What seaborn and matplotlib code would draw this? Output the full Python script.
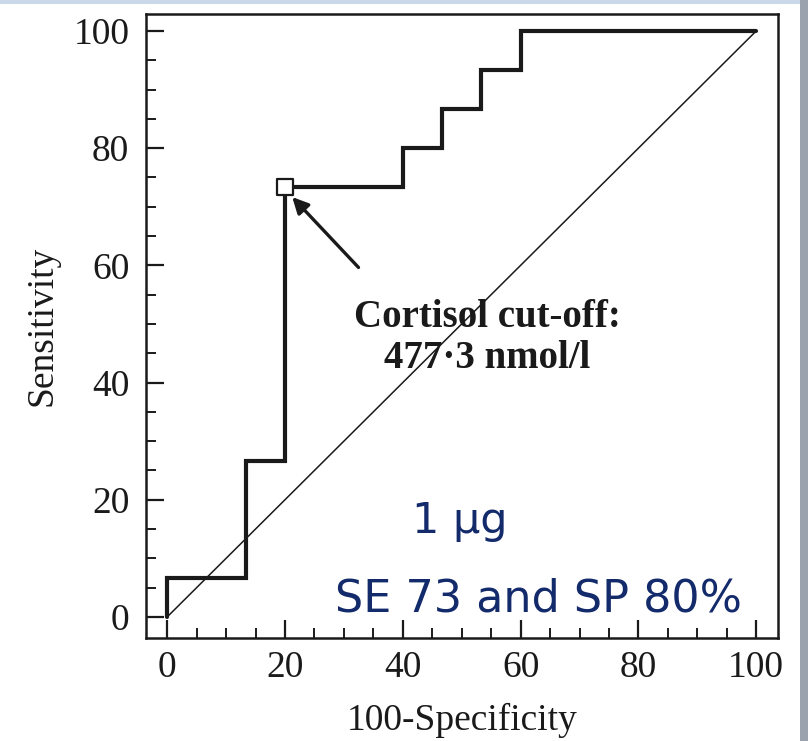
import matplotlib
matplotlib.use("Agg")
import matplotlib.pyplot as plt
import seaborn as sns
import pandas as pd
from matplotlib.patches import Rectangle
from matplotlib.ticker import MultipleLocator

# ROC curve vertices (100-Specificity, Sensitivity)
fpr = [0, 0, 13.33, 13.33, 20, 20, 40, 40, 46.67, 46.67, 53.33, 53.33, 60, 60, 100]
tpr = [0, 6.67, 6.67, 26.67, 26.67, 73.33, 73.33, 80, 80, 86.67, 86.67, 93.33, 93.33, 100, 100]
diag_x = [0, 100]
diag_y = [0, 100]
cut_x = [20]
cut_y = [73.33]
ticks = [0, 20, 40, 60, 80, 100]

sns.set_theme(style="white")
plt.rcParams['font.family'] = ['Liberation Serif', 'DejaVu Serif']

fig = plt.figure(figsize=(8.08, 7.41), dpi=100)
# decorative frame strips
fig.patches.append(Rectangle((0, 1 - 4/741), 1, 4/741, transform=fig.transFigure,
                             facecolor='#c9d9e9', edgecolor='none', zorder=0))
fig.patches.append(Rectangle((800/808, 0), 8/808, 1, transform=fig.transFigure,
                             facecolor='#9aa3ad', edgecolor='none', zorder=0))

ax = fig.add_axes([146/808, 1 - 638/741, (778 - 146)/808, (638 - 14)/741])

df = pd.DataFrame({'x': fpr, 'y': tpr})
sns.lineplot(data=df, x='x', y='y', sort=False, estimator=None, ax=ax,
             color='#1a1a1a', linewidth=3.0, solid_joinstyle='miter')
sns.lineplot(x=diag_x, y=diag_y, ax=ax, color='#1a1a1a', linewidth=1.1)
sns.scatterplot(x=cut_x, y=cut_y, ax=ax, marker='s', s=125, facecolor='white',
                edgecolor='#1a1a1a', linewidth=1.6, zorder=5)

ax.annotate('', xy=(20.9, 72.0), xytext=(32.8, 59.3),
            arrowprops=dict(arrowstyle='-|>', color='#1a1a1a', lw=2.4,
                            mutation_scale=24))
ax.text(54.3, 47.6, 'Cortisol cut-off:\n477·3 nmol/l', ha='center', va='center',
        fontsize=28, fontweight='bold', color='#1a1a1a', linespacing=1.15)

ax.text(49.6, 16.4, '1 \u03bcg', ha='center', va='center', fontsize=31,
        color='#132a6b', family=['DejaVu Sans'])
ax.text(63.1, 3.1, 'SE 73 and SP 80%', ha='center', va='center', fontsize=32,
        color='#132a6b', family=['DejaVu Sans'])

ax.set_xlim(-3.6, 103.7)
ax.set_ylim(-3.6, 102.9)
ax.set_xticks(ticks)
ax.set_yticks(ticks)
ax.xaxis.set_minor_locator(MultipleLocator(5))
ax.yaxis.set_minor_locator(MultipleLocator(5))
ax.tick_params(which='major', direction='in', length=13, width=1.6, color='#1a1a1a',
               labelsize=27, labelcolor='#1a1a1a', pad=9,
               bottom=True, left=True, top=False, right=False)
ax.tick_params(which='minor', direction='in', length=7, width=1.4, color='#1a1a1a',
               bottom=True, left=True, top=False, right=False)
ax.tick_params(axis='y', which='major', pad=12)
for s in ax.spines.values():
    s.set_color('#1a1a1a')
    s.set_linewidth(1.8)

ax.set_xlabel('100-Specificity', fontsize=27, color='#1a1a1a', labelpad=13)
ax.set_ylabel('Sensitivity', fontsize=27, color='#1a1a1a', labelpad=10)
ax.grid(False)

fig.savefig('out.png', dpi=100)
